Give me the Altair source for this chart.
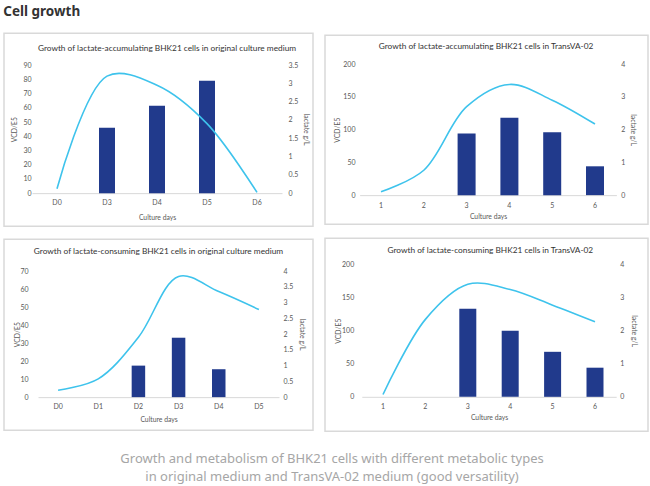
import altair as alt
import pandas as pd

PAGE_TITLE = "Cell growth"
CAPTION = [
    "Growth and metabolism of BHK21 cells with different metabolic types",
    "in original medium and TransVA-02 medium (good versatility)",
]
X_TITLE = "Culture days"
Y_TITLE = "VCD/E5"

# Panel 1
p1_title = "Growth of lactate-accumulating BHK21 cells in original culture medium"
p1_days = ["D0", "D3", "D4", "D5", "D6"]
p1_vcd = [None, 46, 61.5, 79, None]
p1_lactate = [0.12, 3.2, 2.95, 1.9, 0.02]
p1_vcd_ticks = [0, 10, 20, 30, 40, 50, 60, 70, 80, 90]
p1_lac_ticks = [0, 0.5, 1, 1.5, 2, 2.5, 3, 3.5]
p1_lac_title = "lactate g/L"

# Panel 2
p2_title = "Growth of lactate-accumulating BHK21 cells in TransVA-02"
p2_days = ["1", "2", "3", "4", "5", "6"]
p2_vcd = [None, None, 94, 118, 96, 44]
p2_lactate = [0.1, 0.76, 2.7, 3.38, 2.9, 2.17]
p2_vcd_ticks = [0, 50, 100, 150, 200]
p2_lac_ticks = [0, 1, 2, 3, 4]
p2_lac_title = "lactate  g/L"

# Panel 3
p3_title = "Growth of lactate-consuming BHK21 cells in original culture medium"
p3_days = ["D0", "D1", "D2", "D3", "D4", "D5"]
p3_vcd = [None, None, 17.5, 33, 15.5, None]
p3_lactate = [0.22, 0.58, 1.9, 3.83, 3.35, 2.78]
p3_vcd_ticks = [0, 10, 20, 30, 40, 50, 60, 70]
p3_lac_ticks = [0, 0.5, 1, 1.5, 2, 2.5, 3, 3.5, 4]
p3_lac_title = "lactate g/L"

# Panel 4
p4_title = "Growth of lactate-consuming BHK21 cells in TransVA-02"
p4_days = ["1", "2", "3", "4", "5", "6"]
p4_vcd = [None, None, 133, 100, 68, 44]
p4_lactate = [0.07, 2.34, 3.4, 3.24, 2.77, 2.27]
p4_vcd_ticks = [0, 50, 100, 150, 200]
p4_lac_ticks = [0, 1, 2, 3, 4]
p4_lac_title = "lactate  g/L"

NAVY = "#213A8C"
CYAN = "#3EC3EC"
FONT = "Lato"

# layout (pixels inside each panel box)
G1 = dict(w=309, h=193, x0=28, x1=278, y0=160, y1=32, bw=16, loff=-29, ltx=-19,
          roff=-27, rtx=19, xoff=-33, lp=5, xty=24.5, tx=163, ty=18)
G2 = dict(w=323, h=189, x0=34.6, x1=291.4, y0=160, y1=29, bw=18, loff=-32, ltx=-20,
          roff=-29.3, rtx=13.3, xoff=-29, lp=6.5, xty=21, tx=161, ty=14)
G3 = dict(w=309, h=191, x0=34, x1=275, y0=158, y1=32, bw=13.5, loff=-26, ltx=-13,
          roff=-32, rtx=20, xoff=-33, lp=5, xty=22, tx=154.5, ty=15)
G4 = dict(w=323, h=193, x0=36.8, x1=291.2, y0=158.7, y1=26.3, bw=17, loff=-30.7, ltx=-17,
          roff=-30.3, rtx=16, xoff=-34.3, lp=5.5, xty=21, tx=165.3, ty=14.7)


def panel(title, days, vcd, lac, vt, lt, lac_title, g):
    df = pd.DataFrame({"day": days, "vcd": vcd, "lac": lac})
    x = alt.X(
        "day:N", sort=days, title=X_TITLE,
        scale=alt.Scale(range=[g["x0"], g["x1"]], paddingInner=0, paddingOuter=0),
        axis=alt.Axis(labelAngle=0, domain=True, domainColor="#d9d9d9", domainWidth=1,
                      offset=g["xoff"], labelPadding=g["lp"], titleY=g["xty"],
                      titleBaseline="middle"),
    )
    base = alt.Chart(df)
    bars = base.mark_bar(color=NAVY, size=g["bw"]).encode(
        x=x,
        y=alt.Y("vcd:Q", title=Y_TITLE,
                scale=alt.Scale(domain=[vt[0], vt[-1]], range=[g["y0"], g["y1"]], nice=False),
                axis=alt.Axis(values=vt, orient="left", offset=g["loff"], labelPadding=2,
                              titleX=g["ltx"], titleBaseline="middle")),
    )
    line = base.mark_line(color=CYAN, strokeWidth=1.6, interpolate="catmull-rom").encode(
        x=x,
        y=alt.Y("lac:Q", title=lac_title,
                scale=alt.Scale(domain=[lt[0], lt[-1]], range=[g["y0"], g["y1"]], nice=False),
                axis=alt.Axis(values=lt, format="~g", orient="right", offset=g["roff"],
                              labelPadding=2, titleX=g["rtx"], titleBaseline="middle")),
    )
    ttl = alt.Chart(pd.DataFrame({"t": [title]})).mark_text(
        font=FONT, fontSize=8.3, color="#333333", baseline="alphabetic", align="center"
    ).encode(text="t:N", x=alt.value(g["tx"]), y=alt.value(g["ty"]))
    return alt.layer(bars, line, ttl).resolve_scale(y="independent").properties(
        width=g["w"], height=g["h"])


c1 = panel(p1_title, p1_days, p1_vcd, p1_lactate, p1_vcd_ticks, p1_lac_ticks, p1_lac_title, G1)
c2 = panel(p2_title, p2_days, p2_vcd, p2_lactate, p2_vcd_ticks, p2_lac_ticks, p2_lac_title, G2)
c3 = panel(p3_title, p3_days, p3_vcd, p3_lactate, p3_vcd_ticks, p3_lac_ticks, p3_lac_title, G3)
c4 = panel(p4_title, p4_days, p4_vcd, p4_lactate, p4_vcd_ticks, p4_lac_ticks, p4_lac_title, G4)

row1 = alt.hconcat(c1, c2, spacing=10, center=True)
row2 = alt.hconcat(c3, c4, spacing=10, center=True)

cap = alt.Chart(pd.DataFrame({"i": [0, 1], "t": CAPTION})).mark_text(
    font="Noto Sans", fontSize=13, color="#a6a6a6", baseline="middle", align="center"
).encode(
    text="t:N",
    x=alt.value(328),
    y=alt.Y("i:O", axis=None, scale=alt.Scale(type="point", range=[16, 34], padding=0)),
).properties(width=642, height=44, view=alt.ViewBackground(stroke="transparent"))

chart = alt.vconcat(
    row1, row2, cap, spacing=10,
    title=alt.TitleParams(PAGE_TITLE, anchor="start", font="Noto Sans", fontSize=13.5,
                          fontWeight="bold", color="#333333", offset=14),
).properties(
    padding={"left": 3, "top": 4, "right": 0, "bottom": 0}
).configure_view(
    stroke="#d9d9d9", strokeWidth=1.5
).configure_axis(
    labelFont=FONT, labelFontSize=7, labelColor="#595959",
    titleFont=FONT, titleFontSize=6.8, titleFontWeight="normal", titleColor="#595959",
    grid=False, ticks=False, tickSize=0, domain=False, minExtent=0,
)

chart.save("out.html", embed_options={"renderer": "svg", "actions": False})
